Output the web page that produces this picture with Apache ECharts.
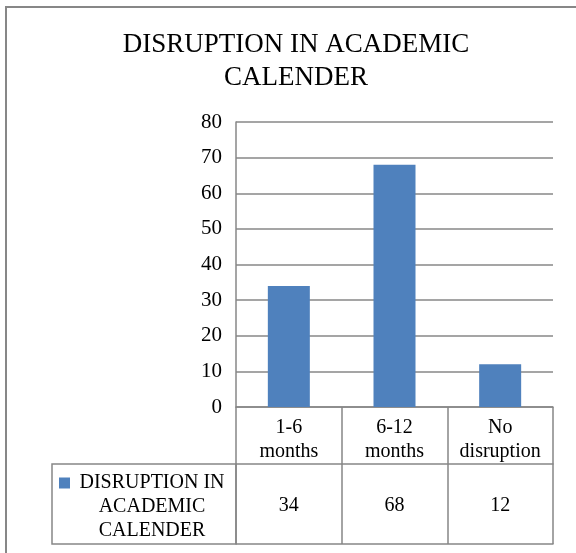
<!DOCTYPE html>
<html>
<head>
<meta charset="utf-8">
<title>Disruption in academic calender</title>
<script src="https://cdn.jsdelivr.net/npm/echarts@6/dist/echarts.min.js"></script>
<style>
  html, body { margin: 0; padding: 0; background: #fff; }
  #chart { width: 576px; height: 553px; }
</style>
</head>
<body>
<div id="chart"></div>
<script>
// data
const categories = ['1-6\nmonths', '6-12\nmonths', 'No\ndisruption']
const seriesName = 'DISRUPTION IN ACADEMIC CALENDER'
const values = [34, 68, 12]
const yTicks = { min: 0, max: 80, step: 10 }

const font = 'Liberation Serif'
const gray = '#878787'
const blue = '#4f81bd'

const chart = echarts.init(document.getElementById('chart'))

// table rows under the plot: categories, then values
const catRowH = 57
const valRowH = 80

const option = {
  animation: false,
  textStyle: { fontFamily: font, color: '#000' },
  title: {
    text: '{t|DISRUPTION IN ACADEMIC}\n{t|CALENDER}',
    left: 117,
    top: 23,
    textStyle: {
      fontFamily: font, fontSize: 27, lineHeight: 33, fontWeight: 'normal', color: '#000',
      rich: {
        t: { fontFamily: font, fontSize: 27, lineHeight: 33, width: 348, align: 'center', color: '#000' }
      }
    }
  },
  // outer frame + the legend cell of the data table
  graphic: [
    { type: 'rect', shape: { x: 6, y: 7, width: 620, height: 620 }, style: { fill: 'none', stroke: gray, lineWidth: 2 }, silent: true },
    { type: 'rect', shape: { x: 52, y: 464, width: 184, height: valRowH }, style: { fill: 'none', stroke: gray, lineWidth: 1.5 }, silent: true }
  ],
  legend: {
    data: [seriesName],
    left: 54,
    top: 468,
    icon: 'rect',
    itemWidth: 11,
    itemHeight: 11,
    selectedMode: false,
    formatter: () => '{a|DISRUPTION IN}\n{a|ACADEMIC}\n{a|CALENDER}',
    textStyle: {
      fontFamily: font,
      fontSize: 20,
      color: '#000',
      padding: [48, 0, 0, 0],
      rich: {
        a: { fontFamily: font, fontSize: 20, lineHeight: 24, width: 154, align: 'center', color: '#000' }
      }
    }
  },
  grid: { left: 236, right: 23, top: 122, bottom: 146, containLabel: false },
  xAxis: [
    {
      type: 'category',
      data: categories,
      position: 'bottom',
      axisLine: { show: true, lineStyle: { color: gray, width: 1.5 } },
      axisTick: { show: true, interval: 0, length: catRowH, lineStyle: { color: gray, width: 1.5 } },
      axisLabel: { interval: 0, margin: 9, fontFamily: font, fontSize: 20, lineHeight: 24, color: '#000' },
      splitLine: { show: false }
    },
    {
      type: 'category',
      data: values.map(String),
      position: 'bottom',
      offset: catRowH,
      axisLine: { show: true, lineStyle: { color: gray, width: 1.5 } },
      axisTick: { show: true, interval: 0, length: valRowH, lineStyle: { color: gray, width: 1.5 } },
      axisLabel: { interval: 0, margin: 30, fontFamily: font, fontSize: 20, lineHeight: 24, color: '#000' },
      splitLine: { show: false }
    },
    {
      type: 'category',
      data: categories,
      position: 'bottom',
      offset: catRowH + valRowH,
      axisLine: { show: true, lineStyle: { color: gray, width: 1.5 } },
      axisTick: { show: false },
      axisLabel: { show: false },
      splitLine: { show: false }
    }
  ],
  yAxis: {
    type: 'value',
    min: yTicks.min,
    max: yTicks.max,
    interval: yTicks.step,
    axisLine: { show: true, lineStyle: { color: gray, width: 1.5 } },
    axisTick: { show: false },
    axisLabel: { margin: 14, fontFamily: font, fontSize: 21, color: '#000', padding: [3, 0, 0, 0] },
    splitLine: { show: true, lineStyle: { color: gray, width: 1.5 } }
  },
  series: [
    {
      name: seriesName,
      type: 'bar',
      xAxisIndex: 0,
      data: values,
      barWidth: 42,
      itemStyle: { color: blue }
    }
  ]
}

chart.setOption(option)
</script>
</body>
</html>
